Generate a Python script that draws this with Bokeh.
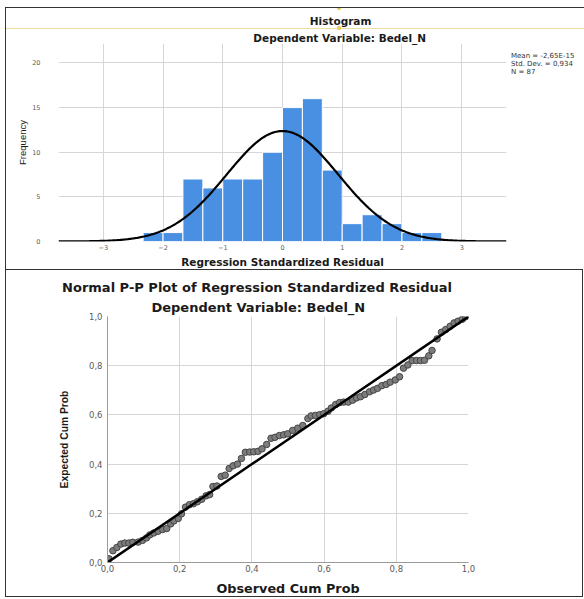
import numpy as np
from bokeh.plotting import figure
from bokeh.models import (Range1d, FixedTicker, CustomJSTickFormatter, Title, Legend,
                          LegendItem)
from bokeh.layouts import column
from bokeh.embed import file_html
from bokeh.resources import INLINE

# ---------------- Histogram data ----------------
bin_edges = [-2.333, -2.0, -1.667, -1.333, -1.0, -0.667, -0.333, 0.0,
             0.333, 0.667, 1.0, 1.333, 1.667, 2.0, 2.333, 2.667]
frequencies = [1, 1, 7, 6, 7, 7, 10, 15, 16, 8, 2, 3, 2, 1, 1]
hist_x_ticks = [-3, -2, -1, 0, 1, 2, 3]
hist_y_ticks = [0, 5, 10, 15, 20]
resid_mean = -2.65e-15
resid_sd = 0.934
resid_n = 87
stats_lines = ["Mean = -2,65E-15", "Std. Dev. = 0,934", "N = 87"]

# ---------------- P-P plot data ----------------
observed_cum_prob = [
    0.004, 0.015, 0.026, 0.037, 0.048, 0.059, 0.070, 0.085, 0.097, 0.108,
    0.117, 0.128, 0.140, 0.153, 0.164, 0.175, 0.184, 0.196, 0.205, 0.216,
    0.227, 0.238, 0.249, 0.261, 0.273, 0.283, 0.292, 0.303, 0.315, 0.326,
    0.337, 0.348, 0.360, 0.371, 0.382, 0.394, 0.405, 0.417, 0.428, 0.441,
    0.453, 0.464, 0.476, 0.488, 0.499, 0.513, 0.527, 0.541, 0.555, 0.564,
    0.576, 0.588, 0.599, 0.611, 0.620, 0.632, 0.643, 0.654, 0.667, 0.679,
    0.690, 0.701, 0.713, 0.726, 0.737, 0.748, 0.760, 0.772, 0.783, 0.797,
    0.809, 0.820, 0.832, 0.844, 0.856, 0.867, 0.878, 0.890, 0.899, 0.913,
    0.925, 0.937, 0.949, 0.960, 0.971, 0.983, 0.992]
expected_cum_prob = [
    0.015, 0.048, 0.061, 0.075, 0.079, 0.079, 0.082, 0.083, 0.090, 0.100,
    0.112, 0.120, 0.127, 0.134, 0.138, 0.157, 0.169, 0.179, 0.198, 0.225,
    0.235, 0.239, 0.247, 0.257, 0.271, 0.276, 0.309, 0.311, 0.350, 0.355,
    0.382, 0.393, 0.400, 0.423, 0.448, 0.449, 0.450, 0.452, 0.462, 0.480,
    0.505, 0.509, 0.516, 0.519, 0.523, 0.537, 0.546, 0.557, 0.585, 0.596,
    0.598, 0.601, 0.605, 0.615, 0.628, 0.642, 0.650, 0.652, 0.652, 0.660,
    0.669, 0.674, 0.683, 0.694, 0.701, 0.708, 0.719, 0.724, 0.733, 0.742,
    0.755, 0.790, 0.803, 0.821, 0.821, 0.821, 0.822, 0.840, 0.862, 0.909,
    0.936, 0.947, 0.960, 0.974, 0.981, 0.989, 0.999]
reference_line = [0.0, 1.0]
pp_ticks = [0.0, 0.2, 0.4, 0.6, 0.8, 1.0]

BAR_BLUE = "#4a90e2"
GRID = "#d6d6d6"
TICK_COL = "#5a5a5a"
TXT = "#1a1a1a"
BOLD_FONT = "DejaVu Sans"
BORDER = "1px solid #333333"

comma_fmt = CustomJSTickFormatter(code="return tick.toFixed(1).replace('.', ',');")

# ================= Histogram =================
p1 = figure(frame_width=447, frame_height=197, x_range=Range1d(-3.75, 3.75),
            y_range=Range1d(0, 22.18), output_backend="svg", toolbar_location=None,
            title_location=None, frame_align=False,
            min_border_left=52, min_border_right=78, min_border_top=35, min_border_bottom=27)
p1.outline_line_color = None
p1.background_fill_color = "white"
p1.border_fill_color = None

p1.quad(left=bin_edges[:-1], right=bin_edges[1:], bottom=0, top=frequencies,
        fill_color=BAR_BLUE, line_color="white", line_width=1)

bw = bin_edges[1] - bin_edges[0]
xs = np.linspace(-3.75, 3.75, 400)
ys = resid_n * bw * np.exp(-0.5 * ((xs - resid_mean) / resid_sd) ** 2) / (resid_sd * np.sqrt(2 * np.pi))
p1.line(xs, ys, line_color="black", line_width=2.2)

for ax in (p1.xaxis[0], p1.yaxis[0]):
    ax.axis_line_color = None
    ax.major_tick_line_color = None
    ax.minor_tick_line_color = None
    ax.major_tick_out = 0
    ax.major_tick_in = 0
    ax.minor_tick_out = 0
    ax.major_label_text_font = "DejaVu Sans"
    ax.major_label_text_font_size = "6.5px"
    ax.major_label_text_color = TICK_COL
    ax.axis_label_text_color = TXT

p1.xaxis.ticker = FixedTicker(ticks=hist_x_ticks)
p1.yaxis.ticker = FixedTicker(ticks=hist_y_ticks)
p1.xaxis.major_label_standoff = 3
p1.xaxis.axis_label = "Regression Standardized Residual"
p1.xaxis.axis_label_text_font = BOLD_FONT
p1.xaxis.axis_label_text_font_style = "bold"
p1.xaxis.axis_label_text_font_size = "10.5px"
p1.xaxis.axis_label_standoff = 3

p1.yaxis.major_label_standoff = 18
p1.yaxis.axis_label = "Frequency"
p1.yaxis.axis_label_text_font = "Liberation Sans"
p1.yaxis.axis_label_text_font_style = "normal"
p1.yaxis.axis_label_text_font_size = "9.5px"
p1.yaxis.axis_label_standoff = 1

p1.xgrid.grid_line_color = GRID
p1.ygrid.grid_line_color = GRID
p1.xgrid.ticker = FixedTicker(ticks=hist_x_ticks)
p1.ygrid.ticker = FixedTicker(ticks=hist_y_ticks)

p1.add_layout(Title(text="Dependent Variable: Bedel_N", align="left", offset=194.8,
                    text_font=BOLD_FONT, text_font_style="bold", text_font_size="10.5px",
                    text_color=TXT, standoff=0), "above")
p1.add_layout(Title(text="Histogram", align="left", offset=251.3,
                    text_font=BOLD_FONT, text_font_style="bold", text_font_size="10.5px",
                    text_color=TXT, standoff=6), "above")

dummy = p1.scatter(x=[0], y=[0], size=0, fill_alpha=0, line_alpha=0)
stats_legend = Legend(items=[LegendItem(label=s, renderers=[dummy]) for s in stats_lines],
                      location="top_left", glyph_width=1, glyph_height=6, label_height=6,
                      label_standoff=0, padding=0, margin=4, spacing=0,
                      title=" ", title_text_font_size="4px", title_standoff=0,
                      border_line_color=None, background_fill_alpha=0,
                      label_text_font="DejaVu Sans", label_text_font_size="7px",
                      label_text_color="#333333")
p1.add_layout(stats_legend, "right")

p1.styles = {
    "border-left": BORDER,
    "border-top": BORDER,
    "background": "radial-gradient(circle at 333px 20px, #e9cf6a 0px, #e9cf6a 1.8px, "
                  "rgba(255,255,255,0) 2.6px), "
                  "radial-gradient(circle at 333px 0px, #e9cf6a 0px, #e9cf6a 1.8px, "
                  "rgba(255,255,255,0) 2.6px), "
                  "linear-gradient(to bottom, #ffffff 0px, #ffffff 20px, #eedd9c 20px, "
                  "#eedd9c 21px, #ffffff 21px, #ffffff 100%)",
}

# ================= P-P plot =================
p2 = figure(frame_width=359, frame_height=244, x_range=Range1d(0, 1), y_range=Range1d(0, 1),
            output_backend="svg", toolbar_location=None, title_location=None, frame_align=False,
            min_border_left=101, min_border_right=116, min_border_top=46, min_border_bottom=35)
p2.outline_line_color = None
p2.border_fill_color = "white"

p2.scatter(observed_cum_prob, expected_cum_prob, size=6.5, fill_color="#7c7c7c",
           line_color="#454545", line_width=1)
p2.line(reference_line, reference_line, line_color="black", line_width=2.5)

for ax in (p2.xaxis[0], p2.yaxis[0]):
    ax.axis_line_color = "#9a9a9a"
    ax.major_tick_line_color = None
    ax.minor_tick_line_color = None
    ax.major_tick_out = 0
    ax.major_tick_in = 0
    ax.minor_tick_out = 0
    ax.ticker = FixedTicker(ticks=pp_ticks)
    ax.formatter = comma_fmt
    ax.major_label_text_font = "DejaVu Sans"
    ax.major_label_text_font_size = "8.5px"
    ax.major_label_text_color = TICK_COL
    ax.axis_label_text_color = TXT

p2.xaxis.major_label_standoff = 2
p2.xaxis.axis_label = "Observed Cum Prob"
p2.xaxis.axis_label_text_font = BOLD_FONT
p2.xaxis.axis_label_text_font_style = "bold"
p2.xaxis.axis_label_text_font_size = "12.8px"
p2.xaxis.axis_label_standoff = 6

p2.yaxis.major_label_standoff = 5
p2.yaxis.axis_label = "Expected Cum Prob"
p2.yaxis.axis_label_text_font = "Liberation Sans"
p2.yaxis.axis_label_text_font_style = "bold"
p2.yaxis.axis_label_text_font_size = "10.3px"
p2.yaxis.axis_label_standoff = 16

p2.xgrid.grid_line_color = GRID
p2.ygrid.grid_line_color = GRID
p2.xgrid.ticker = FixedTicker(ticks=pp_ticks)
p2.ygrid.ticker = FixedTicker(ticks=pp_ticks)

p2.add_layout(Title(text="Dependent Variable: Bedel_N", align="left", offset=43.9,
                    text_font=BOLD_FONT, text_font_style="bold", text_font_size="13px",
                    text_color=TXT, standoff=4), "above")
p2.add_layout(Title(text="Normal P-P Plot of Regression Standardized Residual", align="left",
                    offset=-45.4, text_font=BOLD_FONT, text_font_style="bold",
                    text_font_size="13px", text_color=TXT, standoff=1), "above")

p2.styles = {"border": BORDER}

layout = column(p1, p2, margin=(7, 0, 0, 5))
open("out.html", "w").write(file_html(layout, INLINE))
